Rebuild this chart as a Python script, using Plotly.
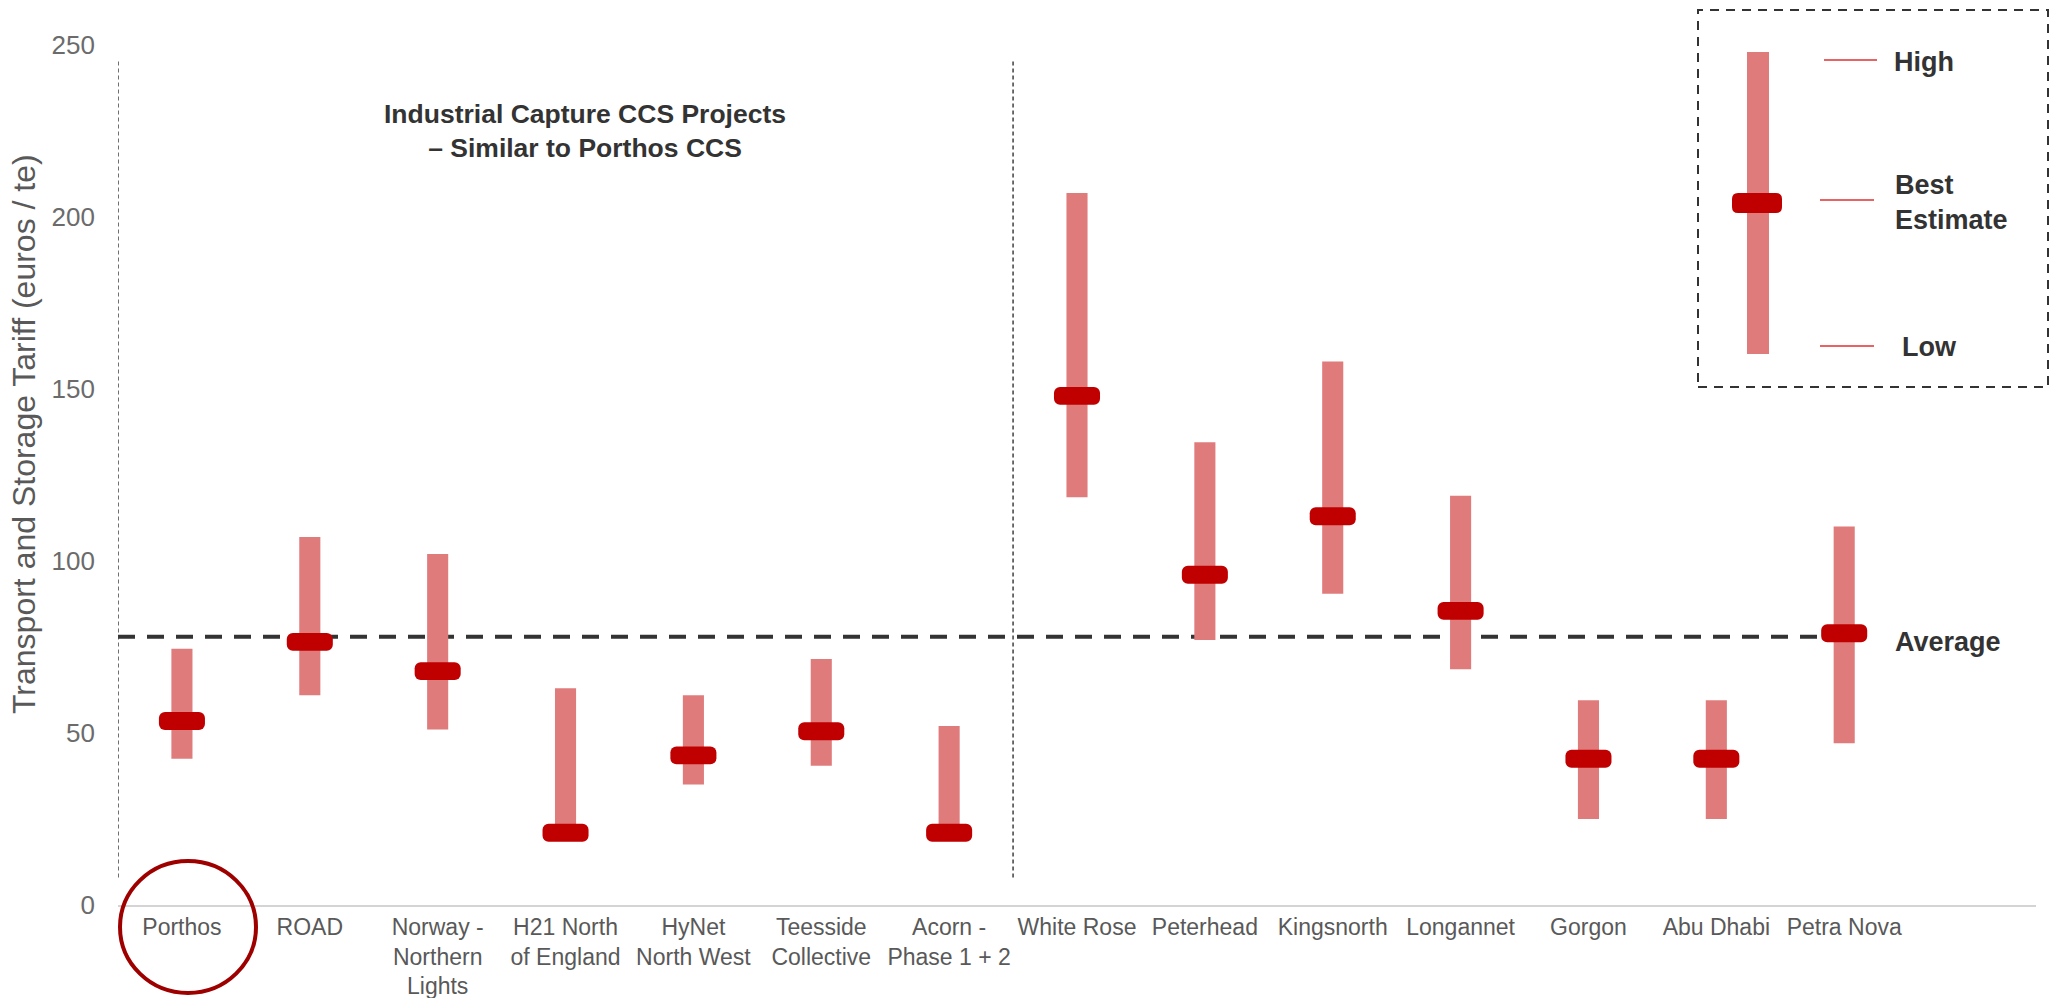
import plotly.graph_objects as go

# ---------------- data ----------------
categories = ["Porthos", "ROAD", "Norway -<br>Northern<br>Lights", "H21 North<br>of England",
              "HyNet<br>North West", "Teesside<br>Collective", "Acorn -<br>Phase 1 + 2",
              "White Rose", "Peterhead", "Kingsnorth", "Longannet", "Gorgon",
              "Abu Dhabi", "Petra Nova"]
high = [74.5, 107, 102, 63, 61, 71.5, 52, 207, 134.5, 158, 119, 59.5, 59.5, 110]
low = [42.5, 61, 51, 21, 35, 40.5, 21, 118.5, 77, 90.5, 68.5, 25, 25, 47]
best = [53.5, 76.5, 68, 21, 43.5, 50.5, 21, 148, 96, 113, 85.5, 42.5, 42.5, 79]
average = 78
y_ticks = [0, 50, 100, 150, 200, 250]

# ---------------- layout constants ----------------
W, H = 2056, 998
ML, MR, MT, MB = 118, 20, 45, 93
PW, PH = W - ML - MR, H - MT - MB

def px(x):
    return (x - ML) / PW

def py(y):
    return (H - MB - y) / PH

BAR_RED = "#e07b7b"
DARK_RED = "#c00000"
TXT = "#333333"
SANS = "Liberation Sans, Arial, sans-serif"

idx = list(range(len(categories)))
thick = 5.2  # thickness of the best-estimate marker (data units)

fig = go.Figure()
fig.add_trace(go.Bar(x=idx, base=low, y=[h - l for h, l in zip(high, low)], width=0.165,
                     marker=dict(color=BAR_RED, line=dict(width=0)), hoverinfo="skip",
                     showlegend=False))
fig.add_trace(go.Bar(x=idx, base=[b - thick / 2 for b in best], y=[thick] * len(idx), width=0.36,
                     marker=dict(color=DARK_RED, line=dict(width=0), cornerradius=6),
                     hoverinfo="skip", showlegend=False))

shapes = []
# group separators
for xv in (-0.5, 6.5):
    shapes.append(dict(type="line", xref="x", yref="y", x0=xv, x1=xv, y0=8, y1=246,
                       line=dict(color="#404040", width=1.5, dash="4px,3px")))
# average line
shapes.append(dict(type="line", xref="x", yref="y", x0=-0.5, x1=13.08, y0=average, y1=average,
                   line=dict(color="#333333", width=4, dash="17px,12px"), layer="below"))
# Porthos highlight circle
shapes.append(dict(type="circle", xref="paper", yref="paper",
                   x0=px(120), x1=px(256), y0=py(993), y1=py(861),
                   line=dict(color="#9e0000", width=4)))
# legend box
shapes.append(dict(type="rect", xref="paper", yref="paper",
                   x0=px(1698), x1=px(2048), y0=py(387), y1=py(10),
                   line=dict(color="#333333", width=2, dash="9px,7px")))
shapes.append(dict(type="rect", xref="paper", yref="paper",
                   x0=px(1747), x1=px(1769), y0=py(354), y1=py(52),
                   fillcolor=BAR_RED, line=dict(width=0)))
# rounded legend marker
x0, x1, y0, y1, r = 1732, 1782, 193, 213, 6
path = (f"M {px(x0 + r)} {py(y0)} L {px(x1 - r)} {py(y0)} Q {px(x1)} {py(y0)} {px(x1)} {py(y0 + r)} "
        f"L {px(x1)} {py(y1 - r)} Q {px(x1)} {py(y1)} {px(x1 - r)} {py(y1)} "
        f"L {px(x0 + r)} {py(y1)} Q {px(x0)} {py(y1)} {px(x0)} {py(y1 - r)} "
        f"L {px(x0)} {py(y0 + r)} Q {px(x0)} {py(y0)} {px(x0 + r)} {py(y0)} Z")
shapes.append(dict(type="path", xref="paper", yref="paper", path=path,
                   fillcolor=DARK_RED, line=dict(width=0)))
for (lx0, lx1, ly) in ((1824, 1877, 60), (1820, 1874, 200), (1820, 1874, 346)):
    shapes.append(dict(type="line", xref="paper", yref="paper", x0=px(lx0), x1=px(lx1),
                       y0=py(ly), y1=py(ly), line=dict(color="#e03030", width=1.3)))

def note(text, x, y, size=27, xanchor="left", xref="paper", yref="paper", **kw):
    return dict(text=text, xref=xref, yref=yref, x=x, y=y, xanchor=xanchor, yanchor="middle",
                showarrow=False, font=dict(family=SANS, size=size, color=kw.pop("color", TXT)),
                **kw)

annotations = [
    note("<b>Industrial Capture CCS Projects<br>– Similar to Porthos CCS</b>", 3.15, 225,
         size=26.5, xanchor="center", xref="x", yref="y", align="center"),
    note("<b>Average</b>", 13.38, average - 1.5, xref="x", yref="y"),
    note("<b>High</b>", px(1892), py(62)),
    note("<b>Best<br>Estimate</b>", px(1893), py(203), align="left"),
    note("<b>Low</b>", px(1900), py(347)),
    note("Transport and Storage Tariff (euros / te)", px(24), py(434), size=32,
         xanchor="center", textangle=-90, color="#595959"),
]

fig.update_layout(
    width=W, height=H, margin=dict(l=ML, r=MR, t=MT, b=MB, autoexpand=False),
    paper_bgcolor="white", plot_bgcolor="white",
    barmode="overlay", showlegend=False,
    shapes=shapes, annotations=annotations,
    xaxis=dict(range=[-0.5, 14.5], tickmode="array", tickvals=idx, ticktext=categories,
               tickangle=0, automargin=False,
               showgrid=False, zeroline=False, showline=True, linecolor="#d4d4d4", linewidth=2,
               ticks="", tickfont=dict(family=SANS, size=23, color="#595959"),
               fixedrange=True),
    yaxis=dict(range=[0, 250], tickmode="array", tickvals=y_ticks, showgrid=False,
               automargin=False,
               zeroline=False, showline=False, ticks="", ticklabelstandoff=22,
               tickfont=dict(family=SANS, size=26, color="#6b6b6b"), fixedrange=True),
)

fig.write_html("out.html")
